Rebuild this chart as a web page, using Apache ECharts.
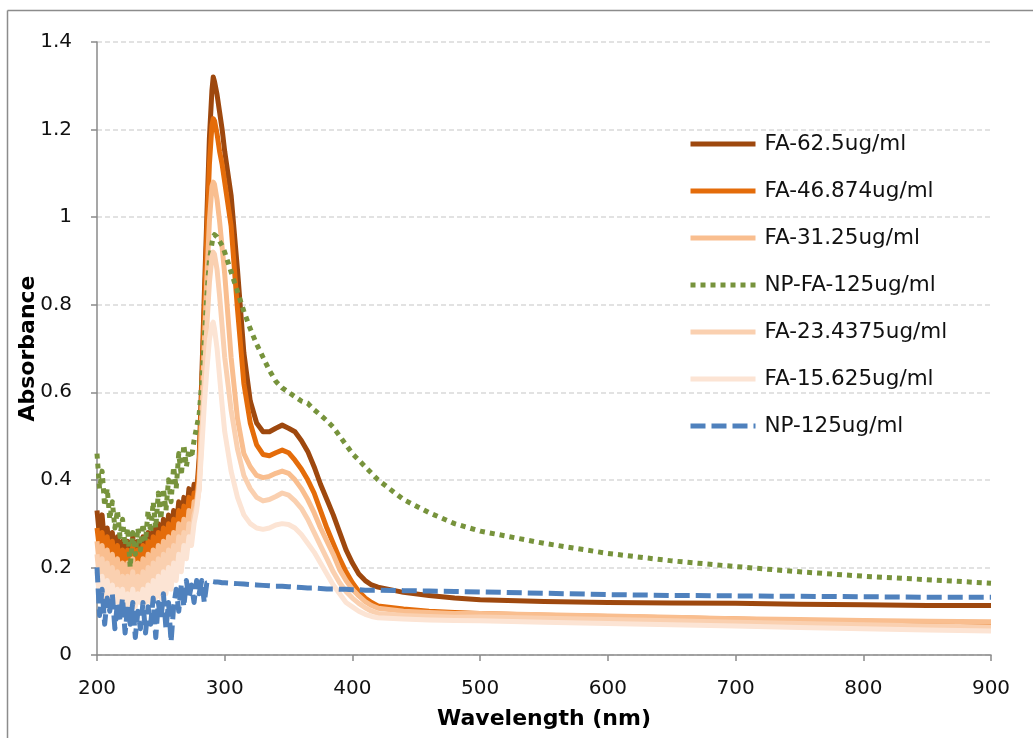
<!DOCTYPE html>
<html>
<head>
<meta charset="utf-8">
<script src="https://cdn.jsdelivr.net/npm/echarts@6/dist/echarts.min.js"></script>
<style>
html,body{margin:0;padding:0;background:#fff;}
#chart{width:1033px;height:738px;}
</style>
</head>
<body>
<div id="chart"></div>
<script>
// Wavelength (nm) sample points shared by every series
const wavelengths = [
  200,202,204,206,208,210,212,214,216,218,220,222,224,226,228,230,232,234,236,238,
  240,242,244,246,248,250,252,254,256,258,260,262,264,266,268,270,272,274,276,278,
  280,282,284,286,288,290,291,292,294,296,298,300,
  305,310,315,320,325,330,335,340,345,350,355,360,365,370,375,380,385,390,395,400,405,410,415,420,
  440,460,480,500,550,600,650,700,750,800,850,900
];

const fa625 = [
  0.33,0.27,0.32,0.25,0.29,0.23,0.28,0.22,0.27,0.21,0.26,0.21,0.26,0.21,0.27,0.21,0.26,0.22,0.27,0.22,
  0.28,0.23,0.29,0.24,0.30,0.25,0.31,0.26,0.32,0.27,0.33,0.29,0.35,0.30,0.36,0.32,0.38,0.34,0.39,0.37,
  0.45,0.63,0.82,1.00,1.18,1.29,1.32,1.31,1.28,1.24,1.20,1.15,
  1.05,0.88,0.69,0.58,0.53,0.51,0.51,0.518,0.525,0.518,0.51,0.49,0.465,0.43,0.39,0.355,0.32,0.28,0.24,0.21,0.185,0.17,0.16,0.155,
  0.143,0.136,0.13,0.126,0.122,0.12,0.119,0.118,0.116,0.115,0.113,0.113
];

const fa46874 = [
  0.29,0.24,0.28,0.22,0.27,0.21,0.26,0.20,0.25,0.19,0.24,0.19,0.24,0.19,0.25,0.19,0.24,0.20,0.25,0.20,
  0.26,0.21,0.27,0.22,0.28,0.23,0.29,0.24,0.30,0.25,0.31,0.27,0.33,0.28,0.34,0.30,0.36,0.32,0.37,0.36,
  0.43,0.60,0.78,0.96,1.12,1.21,1.225,1.22,1.19,1.15,1.12,1.08,
  0.98,0.79,0.62,0.53,0.48,0.458,0.455,0.462,0.468,0.462,0.445,0.425,0.40,0.37,0.33,0.29,0.255,0.22,0.19,0.165,0.145,0.13,0.12,0.112,
  0.105,0.10,0.097,0.095,0.091,0.088,0.085,0.082,0.079,0.077,0.074,0.072
];

const fa3125 = [
  0.26,0.20,0.25,0.19,0.24,0.18,0.23,0.17,0.22,0.16,0.21,0.16,0.21,0.16,0.22,0.16,0.21,0.17,0.22,0.17,
  0.23,0.18,0.24,0.19,0.25,0.20,0.26,0.21,0.27,0.22,0.28,0.24,0.30,0.25,0.31,0.27,0.33,0.29,0.35,0.35,
  0.40,0.55,0.71,0.86,0.99,1.07,1.08,1.075,1.04,0.99,0.93,0.87,
  0.68,0.54,0.46,0.43,0.41,0.405,0.408,0.415,0.42,0.415,0.40,0.38,0.355,0.325,0.29,0.26,0.23,0.195,0.17,0.15,0.135,0.122,0.113,0.107,
  0.10,0.097,0.095,0.095,0.092,0.089,0.086,0.083,0.081,0.079,0.077,0.076
];

const npfa125 = [
  0.46,0.38,0.42,0.34,0.38,0.31,0.35,0.29,0.33,0.27,0.31,0.25,0.29,0.20,0.28,0.23,0.29,0.24,0.30,0.26,
  0.33,0.28,0.35,0.29,0.37,0.31,0.38,0.33,0.40,0.35,0.43,0.38,0.46,0.41,0.48,0.43,0.47,0.45,0.49,0.52,
  0.55,0.62,0.72,0.82,0.90,0.94,0.955,0.96,0.955,0.945,0.935,0.92,
  0.875,0.83,0.785,0.745,0.71,0.68,0.65,0.625,0.61,0.60,0.59,0.58,0.575,0.56,0.548,0.535,0.52,0.50,0.48,0.46,0.445,0.43,0.415,0.40,
  0.355,0.325,0.30,0.283,0.255,0.232,0.215,0.202,0.19,0.18,0.172,0.164
];

const fa234375 = [
  0.23,0.17,0.22,0.16,0.21,0.15,0.20,0.14,0.19,0.13,0.18,0.13,0.18,0.13,0.19,0.13,0.18,0.14,0.19,0.14,
  0.20,0.15,0.21,0.16,0.22,0.17,0.23,0.18,0.24,0.19,0.25,0.21,0.27,0.22,0.28,0.24,0.30,0.27,0.32,0.34,
  0.38,0.50,0.63,0.75,0.85,0.91,0.92,0.915,0.88,0.82,0.75,0.68,
  0.56,0.47,0.41,0.38,0.36,0.352,0.355,0.362,0.37,0.365,0.352,0.335,0.31,0.28,0.25,0.22,0.19,0.165,0.145,0.13,0.118,0.108,0.10,0.095,
  0.09,0.088,0.086,0.087,0.084,0.081,0.078,0.075,0.072,0.069,0.066,0.064
];

const fa15625 = [
  0.19,0.13,0.18,0.12,0.17,0.12,0.16,0.12,0.15,0.11,0.15,0.11,0.14,0.11,0.15,0.11,0.14,0.12,0.15,0.12,
  0.16,0.12,0.17,0.13,0.18,0.13,0.19,0.14,0.20,0.15,0.21,0.17,0.23,0.19,0.25,0.22,0.27,0.25,0.30,0.33,
  0.38,0.47,0.57,0.65,0.72,0.755,0.76,0.745,0.70,0.635,0.57,0.51,
  0.42,0.36,0.32,0.30,0.29,0.287,0.29,0.297,0.30,0.298,0.29,0.275,0.255,0.235,0.21,0.185,0.16,0.14,0.12,0.11,0.10,0.093,0.088,0.085,
  0.082,0.08,0.079,0.078,0.075,0.072,0.069,0.066,0.063,0.06,0.057,0.055
];

const np125 = [
  0.20,0.09,0.15,0.07,0.13,0.10,0.14,0.06,0.12,0.08,0.13,0.05,0.11,0.07,0.12,0.04,0.10,0.06,0.12,0.05,
  0.11,0.07,0.13,0.04,0.12,0.08,0.14,0.06,0.12,0.03,0.11,0.15,0.10,0.16,0.11,0.17,0.13,0.16,0.12,0.17,
  0.14,0.17,0.12,0.165,0.167,0.168,0.168,0.167,0.167,0.166,0.165,0.165,
  0.164,0.163,0.162,0.161,0.16,0.159,0.158,0.157,0.157,0.156,0.155,0.154,0.153,0.153,0.152,0.151,0.151,0.15,0.15,0.149,0.149,0.148,0.148,0.148,
  0.147,0.146,0.145,0.144,0.141,0.138,0.136,0.135,0.134,0.133,0.132,0.132
];

const seriesNames = ['FA-62.5ug/ml','FA-46.874ug/ml','FA-31.25ug/ml','NP-FA-125ug/ml','FA-23.4375ug/ml','FA-15.625ug/ml','NP-125ug/ml'];
const seriesValues = [fa625, fa46874, fa3125, npfa125, fa234375, fa15625, np125];
const seriesColors = ['#9E480E','#E46C0A','#F9BE8F','#77933C','#FAD0B0','#FCE4D4','#4F81BD'];
const seriesDash = ['solid','solid','solid',[5,5],'solid','solid',[15,6]];

const xTicks = {min:200, max:900, step:100};
const yTicks = {min:0, max:1.4, step:0.2};

const FONT = 'DejaVu Sans';

const chart = echarts.init(document.getElementById('chart'), null, {renderer:'canvas'});

const series = seriesNames.map((name, k) => ({
  name: name,
  type: 'line',
  showSymbol: false,
  symbol: 'none',
  smooth: false,
  animation: false,
  color: seriesColors[k],
  lineStyle: {
    color: seriesColors[k],
    width: 5,
    type: seriesDash[k],
    cap: 'butt',
    join: 'round'
  },
  data: wavelengths.map((w, i) => [w, seriesValues[k][i]])
}));

chart.setOption({
  animation: false,
  backgroundColor: '#ffffff',
  graphic: [
    {type: 'line', shape: {x1: 7.5, y1: 10.5, x2: 1033, y2: 10.5}, style: {stroke: '#8c8c8c', lineWidth: 1.5}, silent: true},
    {type: 'line', shape: {x1: 7.5, y1: 10.5, x2: 7.5, y2: 738}, style: {stroke: '#8c8c8c', lineWidth: 1.5}, silent: true}
  ],
  grid: {left: 97, right: 42, top: 42, bottom: 83, containLabel: false},
  legend: {
    orient: 'vertical',
    left: 683,
    top: 127,
    itemWidth: 65,
    itemHeight: 14,
    itemGap: 23,
    data: seriesNames,
    itemStyle: {opacity: 0},
    lineStyle: {width: 5},
    textStyle: {fontFamily: FONT, fontSize: 21.5, color: '#111', lineHeight: 24, padding: [0, 0, 0, 4]}
  },
  xAxis: {
    type: 'value',
    min: xTicks.min,
    max: xTicks.max,
    interval: xTicks.step,
    name: 'Wavelength (nm)',
    nameLocation: 'middle',
    nameGap: 53,
    nameMoveOverlap: false,
    nameTextStyle: {fontFamily: FONT, fontSize: 22, fontWeight: 'bold', color: '#000'},
    axisLine: {show: true, onZero: false, lineStyle: {color: '#8a8a8a', width: 1.5}},
    axisTick: {show: true, length: 6, lineStyle: {color: '#8a8a8a', width: 1.5}},
    axisLabel: {fontFamily: FONT, fontSize: 20, color: '#111', margin: 24},
    splitLine: {show: false}
  },
  yAxis: {
    type: 'value',
    min: yTicks.min,
    max: yTicks.max,
    interval: yTicks.step,
    name: 'Absorbance',
    nameLocation: 'middle',
    nameGap: 58,
    nameMoveOverlap: false,
    nameRotate: 90,
    nameTextStyle: {fontFamily: FONT, fontSize: 22, fontWeight: 'bold', color: '#000'},
    axisLine: {show: true, onZero: false, lineStyle: {color: '#8a8a8a', width: 1.5}},
    axisTick: {show: true, length: 6, lineStyle: {color: '#8a8a8a', width: 1.5}},
    axisLabel: {fontFamily: FONT, fontSize: 20, color: '#111', margin: 25,
      formatter: v => String(parseFloat(v.toFixed(1)))},
    splitLine: {show: true, lineStyle: {color: '#d9d9d9', width: 1.5, type: [5,3]}}
  },
  series: series
});
</script>
</body>
</html>
